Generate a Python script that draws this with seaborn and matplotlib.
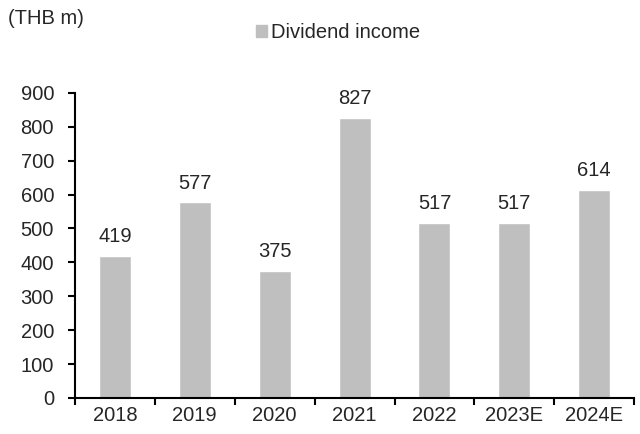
import matplotlib
matplotlib.use("Agg")
import matplotlib.pyplot as plt
import seaborn as sns
import pandas as pd
from matplotlib.patches import Patch

years = ["2018", "2019", "2020", "2021", "2022", "2023E", "2024E"]
dividend_income = [419, 577, 375, 827, 517, 517, 614]

sns.set_style("white")
plt.rcParams['font.family'] = ['Liberation Sans', 'DejaVu Sans']

FS = 14.5
df = pd.DataFrame({"year": years, "value": dividend_income})

fig = plt.figure(figsize=(6.4, 4.34), dpi=100)
ax = fig.add_axes([0.117, 0.083, 0.874, 0.703])
sns.barplot(data=df, x="year", y="value", color="#bfbfbf", width=0.4,
            saturation=1, ax=ax)

for i, v in enumerate(dividend_income):
    ax.text(i, v + 28, f"{v}", ha="center", va="bottom", fontsize=FS)

ax.set_ylim(0, 900)
ax.set_xlim(-0.5, 6.5)
ax.set_yticks(range(0, 901, 100))
ax.set_xlabel("")
ax.set_ylabel("")
ax.set_xticks([i - 0.5 for i in range(8)], minor=False)
ax.set_xticklabels([])
ax.set_xticks(range(7), minor=True)
ax.set_xticklabels(years, minor=True, fontsize=FS)
ax.tick_params(axis="x", which="minor", length=0, pad=6)
ax.tick_params(axis="x", which="major", length=5, width=1.5, direction="out", color="black")
ax.tick_params(axis="y", length=5, width=1.5, direction="out", labelsize=FS, color="black", pad=10)
ax.yaxis.set_ticks_position("left")
ax.xaxis.set_ticks_position("bottom")

for s in ["top", "right"]:
    ax.spines[s].set_visible(False)
for s in ["left", "bottom"]:
    ax.spines[s].set_color("black")
    ax.spines[s].set_linewidth(1.5)

fig.text(8 / 640, 1 - 18 / 434, "(THB m)", fontsize=FS, va="center", ha="left")
fig.legend(handles=[Patch(color="#bfbfbf", label="Dividend income")],
           loc="center", bbox_to_anchor=(338 / 640, 1 - 33 / 434), frameon=False,
           fontsize=FS, handlelength=0.55, handleheight=0.55, handletextpad=0.2)

fig.savefig("out.png", dpi=100)
